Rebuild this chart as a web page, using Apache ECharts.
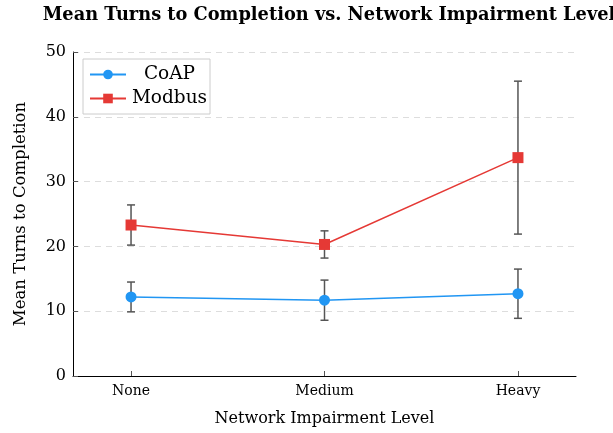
<!DOCTYPE html>
<html>
<head>
<meta charset="utf-8">
<script src="https://cdn.jsdelivr.net/npm/echarts@6/dist/echarts.min.js"></script>
<style>
  html, body { margin: 0; padding: 0; background: #fff; }
  #chart { width: 613px; height: 433px; }
</style>
</head>
<body>
<div id="chart"></div>
<script>
// Impairment levels and per-protocol mean turns with standard deviation
const categories = ['None', 'Medium', 'Heavy'];
const coapMean = [12.2, 11.7, 12.7];
const coapErr = [2.3, 3.1, 3.8];
const modbusMean = [23.3, 20.3, 33.7];
const modbusErr = [3.1, 2.1, 11.8];
const yTicks = [0, 10, 20, 30, 40, 50];

const serif = '"DejaVu Serif", "Liberation Serif", serif';
const blue = '#2196F3';
const red = '#E53935';
const errColor = '#555555';

function points(means) {
  return means.map((v, i) => [i, v]);
}
function errRows(means, errs) {
  return means.map((v, i) => [i, v - errs[i], v + errs[i]]);
}

// vertical whisker with small caps at both ends
function renderErr(params, api) {
  const x = api.value(0);
  const lo = api.coord([x, api.value(1)]);
  const hi = api.coord([x, api.value(2)]);
  const cap = 4;
  const style = { stroke: errColor, lineWidth: 1.5 };
  return {
    type: 'group',
    children: [
      { type: 'line', shape: { x1: lo[0], y1: lo[1], x2: hi[0], y2: hi[1] }, style },
      { type: 'line', shape: { x1: hi[0] - cap, y1: hi[1], x2: hi[0] + cap, y2: hi[1] }, style },
      { type: 'line', shape: { x1: lo[0] - cap, y1: lo[1], x2: lo[0] + cap, y2: lo[1] }, style }
    ]
  };
}

const chart = echarts.init(document.getElementById('chart'), null, { renderer: 'canvas' });
chart.setOption({
  animation: false,
  title: {
    text: 'Mean Turns to Completion vs. Network Impairment Level',
    left: 324, top: 1, textAlign: 'center',
    textStyle: { fontFamily: serif, fontWeight: 'bold', fontSize: 17.8, color: '#000' }
  },
  legend: {
    left: 83, top: 59,
    orient: 'vertical',
    backgroundColor: '#fff',
    borderColor: '#cccccc', borderWidth: 1,
    padding: [6, 2, 6, 6],
    itemGap: 5,
    itemWidth: 36, itemHeight: 12,
    formatter: name => '{t|' + name + '}',
    textStyle: {
      fontFamily: serif, fontSize: 18.5, color: '#000',
      rich: { t: { fontFamily: serif, fontSize: 18.5, lineHeight: 19, color: '#000', width: 77, align: 'center' } }
    },
    data: ['CoAP', 'Modbus']
  },
  grid: { left: 73, right: 37, top: 52, bottom: 57 },
  xAxis: {
    type: 'value', min: -0.3, max: 2.3,
    name: 'Network Impairment Level', nameLocation: 'middle', nameGap: 35,
    nameTextStyle: { fontFamily: serif, fontSize: 16, color: '#000' },
    axisLine: { show: true, onZero: false, lineStyle: { color: '#000', width: 1 } },
    axisTick: { show: true, inside: true, customValues: [0, 1, 2], length: 5, lineStyle: { color: '#555' } },
    axisLabel: {
      customValues: [0, 1, 2], margin: 8,
      fontFamily: serif, fontSize: 14, color: '#000',
      formatter: v => categories[Math.round(v)]
    },
    splitLine: { show: false }
  },
  yAxis: {
    type: 'value', min: 0, max: 50, interval: 10,
    name: 'Mean Turns to Completion', nameLocation: 'middle', nameGap: 44,
    nameTextStyle: { fontFamily: serif, fontSize: 16.5, color: '#000' },
    axisLine: { show: true, onZero: false, lineStyle: { color: '#000', width: 1 } },
    axisTick: { show: true, inside: true, length: 5, lineStyle: { color: '#555' } },
    axisLabel: {
      customValues: yTicks, margin: 7,
      fontFamily: serif, fontSize: 16, color: '#000'
    },
    splitLine: { show: true, lineStyle: { color: '#dddddd', type: [6, 5], width: 1 } }
  },
  series: [
    {
      name: 'CoAP', type: 'line', data: points(coapMean),
      symbol: 'circle', symbolSize: 11,
      lineStyle: { color: blue, width: 1.5 }, itemStyle: { color: blue }, z: 3
    },
    {
      name: 'Modbus', type: 'line', data: points(modbusMean),
      symbol: 'rect', symbolSize: 11,
      lineStyle: { color: red, width: 1.5 }, itemStyle: { color: red }, z: 3
    },
    {
      name: 'CoAP err', type: 'custom', data: errRows(coapMean, coapErr),
      renderItem: renderErr, z: 2, encode: { x: 0, y: [1, 2] }
    },
    {
      name: 'Modbus err', type: 'custom', data: errRows(modbusMean, modbusErr),
      renderItem: renderErr, z: 2, encode: { x: 0, y: [1, 2] }
    }
  ]
});
</script>
</body>
</html>
